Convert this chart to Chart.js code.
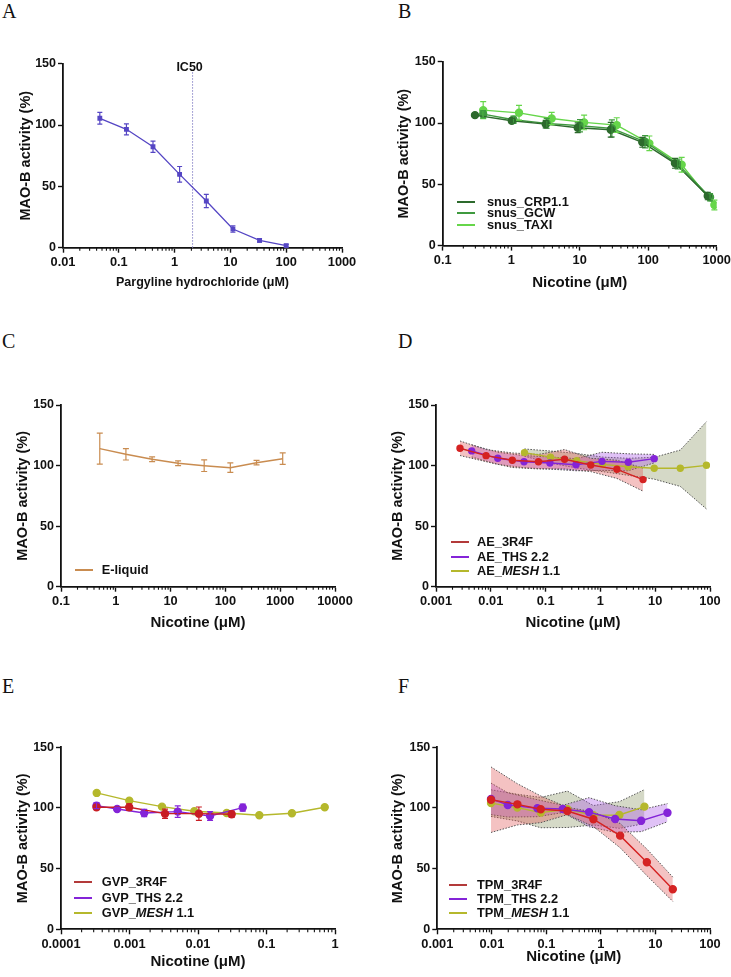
<!DOCTYPE html>
<html>
<head>
<meta charset="utf-8">
<script src="https://cdn.jsdelivr.net/npm/chart.js@4.4.1/dist/chart.umd.min.js"></script>
<style>
  body { margin:0; width:731px; height:977px; background:#fff; position:relative; overflow:hidden; }
  canvas { position:absolute; }
  .letter { position:absolute; font-family:"Liberation Serif","Times New Roman",serif; font-size:20px; line-height:20px; color:#111; }
  .leg { position:absolute; font-family:"Liberation Sans",Arial,sans-serif; font-weight:bold; font-size:12.8px; line-height:14px; color:#111; white-space:nowrap; }
  .legline { position:absolute; height:2px; }
</style>
</head>
<body>
<div class="letter" style="left:2px;top:1px">A</div>
<div class="letter" style="left:398px;top:1px">B</div>
<div class="letter" style="left:2px;top:331px">C</div>
<div class="letter" style="left:398px;top:331px">D</div>
<div class="letter" style="left:2px;top:676px">E</div>
<div class="letter" style="left:398px;top:676px">F</div>

<canvas id="chartA"></canvas>
<canvas id="chartB"></canvas>
<canvas id="chartC"></canvas>
<canvas id="chartD"></canvas>
<canvas id="chartE"></canvas>
<canvas id="chartF"></canvas>

<script>
// ---- data ----
// A : pargyline
const concA = [0.0457, 0.137, 0.41, 1.23, 3.7, 11.1, 33.3, 100];
const actA  = [105.5, 96.5, 82.3, 59.8, 38.1, 15.2, 6.0, 1.6];
const errA  = [4.8, 4.5, 4.6, 6.4, 5.4, 2.6, 1.4, 1.1];
const ic50A = 2.1;
const xTicksA = [0.01, 0.1, 1, 10, 100, 1000];

// B : snus
const concB_CRP  = [0.296, 1.02, 3.19, 9.35, 28.4, 82, 246, 740];
const actB_CRP   = [106.4, 101.8, 99.1, 96.1, 94.5, 84.2, 67.1, 40.4];
const errB_CRP   = [1.5, 2, 3, 4, 6, 4, 4, 3];
const concB_GCW  = [0.39, 1.08, 3.3, 10.1, 29.5, 90, 270, 800];
const actB_GCW   = [107.2, 102.6, 99.7, 97.7, 95.6, 84.7, 66.5, 39.4];
const errB_GCW   = [3, 3, 4, 5, 7, 5, 4, 3];
const concB_TAXI = [0.39, 1.3, 3.9, 11.6, 34.7, 104, 308, 925];
const actB_TAXI  = [110.5, 108.3, 103.7, 100.5, 98.3, 83.4, 65.9, 33.1];
const errB_TAXI  = [7, 6, 5, 6, 6, 6, 6, 4];
const labelsB = ['snus_CRP1.1', 'snus_GCW', 'snus_TAXI'];
const xTicksB = [0.1, 1, 10, 100, 1000];

// C : e-liquid
const concC = [0.51, 1.53, 4.6, 13.7, 41, 123, 370, 1111];
const actC  = [114.0, 109.3, 105.2, 101.9, 99.9, 98.3, 102.4, 105.7];
const errC  = [12.8, 4.7, 1.9, 1.9, 4.8, 4.0, 1.9, 4.7];
const labelsC = ['E-liquid'];
const xTicksC = [0.1, 1, 10, 100, 1000, 10000];

// D : AE
const concD_3R4F = [0.00274, 0.0082, 0.0247, 0.074, 0.222, 0.667, 2.0, 6.0];
const actD_3R4F  = [114.3, 108.2, 104.4, 103.2, 105.2, 100.5, 96.9, 88.4];
const sdD_3R4F   = [6, 5, 6, 6, 8, 5.5, 7.5, 9.5];
const concD_THS  = [0.00448, 0.0134, 0.0404, 0.120, 0.359, 1.07, 3.23, 9.6];
const actD_THS   = [112.1, 106.0, 103.2, 102.1, 100.7, 103.5, 102.7, 105.7];
const sdD_THS    = [5, 5, 5, 5, 5, 7.5, 7, 3.5];
const concD_MESH = [0.0411, 0.123, 0.37, 1.1, 3.2, 9.6, 28.7, 86];
const actD_MESH  = [110.7, 107, 104, 101, 99, 97.8, 97.8, 100.2];
const sdD_MESH   = [3, 5, 6, 6, 7, 9, 15, 36];
const labelsD = ['AE_3R4F', 'AE_THS 2.2', 'AE_MESH 1.1'];
const xTicksD = [0.001, 0.01, 0.1, 1, 10, 100];

// E : GVP
const concE_3R4F = [0.00033, 0.00099, 0.0033, 0.0103, 0.031];
const actE_3R4F  = [100.6, 100.6, 95.3, 95.3, 94.8];
const errE_3R4F  = [2, 2.7, 3.8, 5.5, 2.6];
const concE_THS  = [0.00033, 0.00066, 0.00164, 0.00506, 0.015, 0.045];
const actE_THS   = [101.9, 99.2, 95.9, 97.0, 93.4, 100.3];
const errE_THS   = [2.5, 1, 3, 4.7, 3.7, 2.9];
const concE_MESH = [0.000332, 0.000993, 0.00298, 0.00883, 0.0262, 0.0785, 0.235, 0.708];
const actE_MESH  = [112.4, 106.0, 101.1, 97.3, 95.9, 94.0, 95.6, 100.6];
const labelsE = ['GVP_3R4F', 'GVP_THS 2.2', 'GVP_MESH 1.1'];
const xTicksE = [0.0001, 0.001, 0.01, 0.1, 1];

// F : TPM
const concF_3R4F = [0.00966, 0.0294, 0.0789, 0.243, 0.728, 2.25, 6.95, 20.8];
const actF_3R4F  = [106.8, 103.0, 98.9, 97.5, 90.7, 77.2, 55.2, 33.0];
const sdF_3R4F   = [27, 17, 11, 3, 6, 10, 11, 10];
const concF_THS  = [0.00966, 0.0196, 0.0684, 0.2, 0.607, 1.82, 5.47, 16.6];
const actF_THS   = [107.5, 102.5, 99.8, 99.2, 96.5, 90.9, 89.5, 96.1];
const sdF_THS    = [13, 10, 7, 3, 12, 11, 9, 7.5];
const concF_MESH = [0.00966, 0.0294, 0.0789, 0.243, 0.728, 2.18, 6.28];
const actF_MESH  = [104, 100.3, 96.2, 98.9, 94, 94.2, 101.1];
const sdF_MESH   = [11, 11, 12.5, 15, 8, 11, 14];
const labelsF = ['TPM_3R4F', 'TPM_THS 2.2', 'TPM_MESH 1.1'];
const xTicksF = [0.001, 0.01, 0.1, 1, 10, 100];

const yTicks = [0, 50, 100, 150];

// ---- styles ----
const FONT = '"Liberation Sans", Arial, sans-serif';
const INK = '#111';
const Y_TITLE = 14.5;
const purpleA = '#5546c4';
const greens = ['#2d6a2d', '#3f9a3f', '#66d64a'];
const brown = '#c98c50';
const red = '#d52222', purple = '#8424d8', olive = '#b5b82c';
const redLeg = '#b33a3a';

function pts(xs, ys) { return xs.map((x, i) => ({ x: x, y: ys[i] })); }

function line(xs, ys, color, opts) {
  return Object.assign({
    data: pts(xs, ys), borderColor: color, backgroundColor: color,
    pointBackgroundColor: color, pointBorderColor: color, borderWidth: 1.4,
    pointRadius: 3, tension: 0, fill: false, order: 0
  }, opts || {});
}

// upper / lower dotted edges of a shaded band
function band(xs, ys, sd, fillColor, order) {
  const edge = { borderColor: '#555', borderWidth: 1, borderDash: [1.5, 1.5], pointRadius: 0, tension: 0, order: order };
  return [
    Object.assign({ data: xs.map((x, i) => ({ x: x, y: ys[i] + sd[i] })), fill: false }, edge),
    Object.assign({ data: xs.map((x, i) => ({ x: x, y: ys[i] - sd[i] })), fill: '-1', backgroundColor: fillColor }, edge)
  ];
}

const errorBars = {
  id: 'errorBars',
  afterDatasetsDraw(chart) {
    const ctx = chart.ctx, ys = chart.scales.y;
    chart.data.datasets.forEach((ds, i) => {
      if (!ds.err) return;
      const meta = chart.getDatasetMeta(i);
      ctx.save();
      ctx.strokeStyle = ds.borderColor;
      ctx.lineWidth = 1.2;
      const c = ds.cap || 2.5;
      meta.data.forEach((pt, j) => {
        const v = ds.data[j].y, e = ds.err[j];
        const yt = ys.getPixelForValue(v + e), yb = ys.getPixelForValue(v - e), x = pt.x;
        ctx.beginPath();
        ctx.moveTo(x, yt); ctx.lineTo(x, yb);
        ctx.moveTo(x - c, yt); ctx.lineTo(x + c, yt);
        ctx.moveTo(x - c, yb); ctx.lineTo(x + c, yb);
        ctx.stroke();
      });
      ctx.restore();
    });
  }
};

const minorTicks = {
  id: 'minorTicks',
  afterDraw(chart) {
    const xs = chart.scales.x, ctx = chart.ctx, y0 = chart.chartArea.bottom;
    ctx.save();
    ctx.strokeStyle = INK; ctx.lineWidth = 1.1;
    for (let d = xs.min; d < xs.max * 0.999; d *= 10) {
      for (let k = 2; k < 10; k++) {
        const px = xs.getPixelForValue(d * k);
        ctx.beginPath(); ctx.moveTo(px, y0); ctx.lineTo(px, y0 + 3); ctx.stroke();
      }
    }
    ctx.restore();
  }
};

const ic50Line = {
  id: 'ic50Line',
  beforeDatasetsDraw(chart) {
    const xs = chart.scales.x, ys = chart.scales.y, ctx = chart.ctx;
    const px = xs.getPixelForValue(ic50A);
    ctx.save();
    ctx.strokeStyle = '#8a86c8'; ctx.lineWidth = 1; ctx.setLineDash([1.5, 1.5]);
    ctx.beginPath(); ctx.moveTo(px, ys.getPixelForValue(0)); ctx.lineTo(px, ys.getPixelForValue(144)); ctx.stroke();
    ctx.setLineDash([]);
    ctx.fillStyle = INK; ctx.font = 'bold 12.5px ' + FONT; ctx.textAlign = 'center'; ctx.textBaseline = 'middle';
    ctx.fillText('IC50', px - 3, ys.getPixelForValue(146.5));
    ctx.restore();
  }
};

function panel(id, box, xMin, xMax, xTicks, xTitle, xTitleSize, datasets, extra) {
  const yLH = Y_TITLE * 1.2, xLH = xTitleSize * 1.2;
  const left = Math.round(box.yTitleX - yLH / 2);
  const top = Math.floor(box.T - 12);
  const right = Math.ceil(box.R + 24);
  const bottom = Math.ceil(box.xTitleY + xLH / 2 + 2);
  const cw = right - left, ch = bottom - top;
  const yW = box.L - left;
  const xH = bottom - box.B;
  const padTop = box.T - top;
  const padRight = cw - (box.R - left);
  const titlePadBottom = bottom - box.xTitleY - xLH / 2;

  const cv = document.getElementById(id);
  cv.width = cw; cv.height = ch;
  cv.style.left = left + 'px'; cv.style.top = top + 'px';
  cv.style.width = cw + 'px'; cv.style.height = ch + 'px';

  const axisCommon = {
    grid: { display: true, drawOnChartArea: false, drawTicks: true, tickLength: 5, tickWidth: 1.4, tickColor: INK },
    border: { display: true, color: INK, width: 1.8 }
  };

  return new Chart(cv, {
    type: 'line',
    data: { datasets: datasets },
    options: {
      responsive: false,
      animation: false,
      devicePixelRatio: 1,
      layout: { padding: { top: padTop, right: padRight, left: 0, bottom: 0 } },
      plugins: { legend: { display: false }, tooltip: { enabled: false } },
      scales: {
        x: Object.assign({
          type: 'logarithmic', min: xMin, max: xMax,
          afterBuildTicks: s => { s.ticks = xTicks.map(v => ({ value: v, major: true })); },
          afterFit: s => { s.height = xH; },
          ticks: { callback: v => String(v), color: INK, font: { family: FONT, size: 12.8, weight: 'bold' }, padding: 2, maxRotation: 0, autoSkip: false },
          title: { display: true, text: xTitle, color: INK, font: { family: FONT, size: xTitleSize, weight: 'bold' }, padding: { top: 0, bottom: titlePadBottom } }
        }, axisCommon),
        y: Object.assign({
          type: 'linear', min: 0, max: 150,
          afterBuildTicks: s => { s.ticks = yTicks.map(v => ({ value: v })); },
          afterFit: s => { s.width = yW; },
          ticks: { color: INK, font: { family: FONT, size: 12.5, weight: 'bold' }, padding: 2 },
          title: { display: true, text: 'MAO-B activity (%)', color: INK, font: { family: FONT, size: Y_TITLE, weight: 'bold' }, padding: { top: 0, bottom: 0 } }
        }, axisCommon)
      }
    },
    plugins: [minorTicks, errorBars].concat(extra || [])
  });
}

function legend(lineX, textX, rowsY, labels, colors) {
  labels.forEach((lab, i) => {
    const ln = document.createElement('div');
    ln.className = 'legline';
    ln.style.left = lineX + 'px'; ln.style.width = '18px';
    ln.style.top = (rowsY[i] - 1) + 'px'; ln.style.background = colors[i];
    document.body.appendChild(ln);
    const tx = document.createElement('div');
    tx.className = 'leg';
    tx.style.left = textX + 'px'; tx.style.top = (rowsY[i] - 7) + 'px';
    tx.innerHTML = lab.replace('MESH', '<i>MESH</i>');
    document.body.appendChild(tx);
  });
}

// ---- panels ----
panel('chartA', { L: 63, R: 342, T: 63.7, B: 247.7, yTitleX: 26, xTitleY: 283 },
  0.01, 1000, xTicksA, 'Pargyline hydrochloride (\u03bcM)', 12.5,
  [line(concA, actA, purpleA, { pointStyle: 'rect', pointRadius: 2.5, borderWidth: 1.3, err: errA, cap: 2.5 })],
  [ic50Line]);

panel('chartB', { L: 442.7, R: 716.7, T: 61.7, B: 245.6, yTitleX: 404, xTitleY: 282.5 },
  0.1, 1000, xTicksB, 'Nicotine (\u03bcM)', 15,
  [
    line(concB_TAXI, actB_TAXI, greens[2], { pointRadius: 3.5, err: errB_TAXI, cap: 3, order: 2 }),
    line(concB_GCW, actB_GCW, greens[1], { pointRadius: 3.5, err: errB_GCW, cap: 3, order: 1 }),
    line(concB_CRP, actB_CRP, greens[0], { pointRadius: 3.5, err: errB_CRP, cap: 3, order: 0 })
  ]);
legend(457, 487, [201.7, 213.3, 225], labelsB, greens);

panel('chartC', { L: 61, R: 335, T: 405, B: 586.7, yTitleX: 22.5, xTitleY: 623 },
  0.1, 10000, xTicksC, 'Nicotine (\u03bcM)', 15,
  [line(concC, actC, brown, { pointRadius: 0, borderWidth: 1.5, err: errC, cap: 3 })]);
legend(75, 101.7, [570], labelsC, [brown]);

panel('chartD', { L: 436, R: 710, T: 405, B: 586.7, yTitleX: 397.5, xTitleY: 623 },
  0.001, 100, xTicksD, 'Nicotine (\u03bcM)', 15,
  [
    line(concD_3R4F, actD_3R4F, red, { order: 0 }),
    line(concD_THS, actD_THS, purple, { order: 1 }),
    line(concD_MESH, actD_MESH, olive, { order: 2 })
  ].concat(
    band(concD_3R4F, actD_3R4F, sdD_3R4F, 'rgba(225,85,85,0.36)', 5),
    band(concD_THS, actD_THS, sdD_THS, 'rgba(165,80,230,0.35)', 6),
    band(concD_MESH, actD_MESH, sdD_MESH, 'rgba(150,160,115,0.4)', 7)
  ));
legend(451, 477, [541.7, 556.7, 570.7], labelsD, [redLeg, purple, olive]);

panel('chartE', { L: 61, R: 335, T: 747.3, B: 929.3, yTitleX: 22.5, xTitleY: 962 },
  0.0001, 1, xTicksE, 'Nicotine (\u03bcM)', 15,
  [
    line(concE_3R4F, actE_3R4F, '#c81e24', { pointRadius: 3.5, err: errE_3R4F, cap: 3, order: 0 }),
    line(concE_THS, actE_THS, purple, { pointRadius: 3.5, err: errE_THS, cap: 3, order: 1 }),
    line(concE_MESH, actE_MESH, olive, { pointRadius: 3.5, order: 2 })
  ]);
legend(74, 101.7, [881.7, 898.3, 913.3], labelsE, [redLeg, purple, olive]);

panel('chartF', { L: 437.3, R: 710, T: 747.3, B: 929.3, yTitleX: 397.7, xTitleY: 957 },
  0.001, 100, xTicksF, 'Nicotine (\u03bcM)', 15,
  [
    line(concF_3R4F, actF_3R4F, red, { pointRadius: 3.5, order: 0 }),
    line(concF_THS, actF_THS, purple, { pointRadius: 3.5, order: 1 }),
    line(concF_MESH, actF_MESH, olive, { pointRadius: 3.5, order: 2 })
  ].concat(
    band(concF_3R4F, actF_3R4F, sdF_3R4F, 'rgba(225,85,85,0.36)', 5),
    band(concF_THS, actF_THS, sdF_THS, 'rgba(165,80,230,0.35)', 6),
    band(concF_MESH, actF_MESH, sdF_MESH, 'rgba(150,160,115,0.4)', 7)
  ));
legend(449, 477, [885, 899.3, 913.3], labelsF, [redLeg, purple, olive]);
</script>
</body>
</html>
